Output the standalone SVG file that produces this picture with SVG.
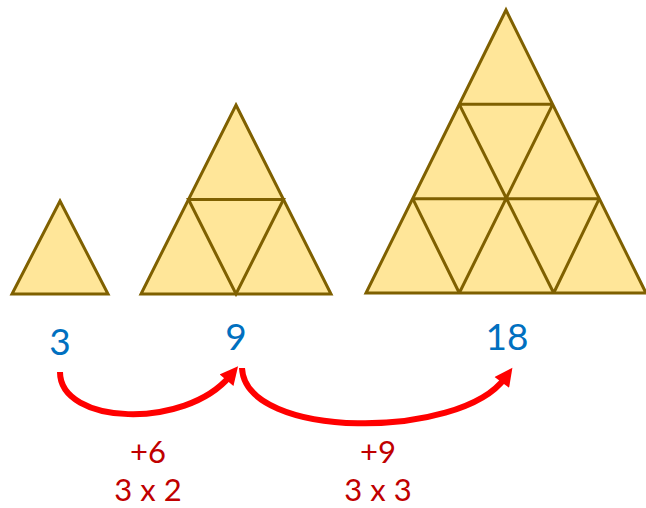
<svg xmlns="http://www.w3.org/2000/svg" width="646" height="508" viewBox="0 0 646 508">
<style>
.tri{fill:#FFE699;stroke:#7F6000;stroke-width:3;stroke-linejoin:miter}
.ln{fill:none;stroke:#7F6000;stroke-width:3}
.num{font-family:Lato,"Open Sans","Liberation Sans",sans-serif;font-size:37px;fill:#0070C0;text-anchor:middle}
.lab{font-family:Lato,"Open Sans","Liberation Sans",sans-serif;font-size:31px;fill:#C00000;text-anchor:middle}
.arr{fill:none;stroke:#FF0000;stroke-width:6;stroke-linecap:butt}
</style>
<defs>
<marker id="ah" markerUnits="userSpaceOnUse" viewBox="0 0 10 10" refX="3" refY="5" markerWidth="19" markerHeight="18" orient="auto">
<path d="M0,0 L10,5 L0,10 z" fill="#FF0000"/>
</marker>
</defs>
<g id="tri1">
<polygon class="tri" points="60,201 108,294 12,294"/>
</g>
<g id="tri2">
<polygon class="tri" points="236,105 331,294 141,294"/>
<path class="ln" d="M188.5,199.5 L283.5,199.5 L236,294 Z"/>
</g>
<g id="tri3">
<polygon class="tri" points="506,10 646,293 366,293"/>
<path class="ln" d="M459.3,104.3 L552.7,104.3 M412.7,198.7 L599.3,198.7 M459.3,104.3 L553.7,293 M552.7,104.3 L459.3,293 M412.7,198.7 L459.3,293 M599.3,198.7 L553.7,293"/>
</g>
<g id="labels">
<text class="num" x="60" y="355">3</text>
<text class="num" x="236" y="350">9</text>
<text class="num" x="507" y="350">18</text>
<text class="lab" x="148" y="463"><tspan x="148">+6</tspan><tspan x="148" dy="38">3 x 2</tspan></text>
<text class="lab" x="378" y="463"><tspan x="378">+9</tspan><tspan x="378" dy="38">3 x 3</tspan></text>
</g>
<g id="connectors">
<path class="arr" d="M60,372 C60,425 185,430 230,376" marker-end="url(#ah)"/>
<path class="arr" d="M242,368 C245,440 460,440 505,378" marker-end="url(#ah)"/>
</g>
</svg>
